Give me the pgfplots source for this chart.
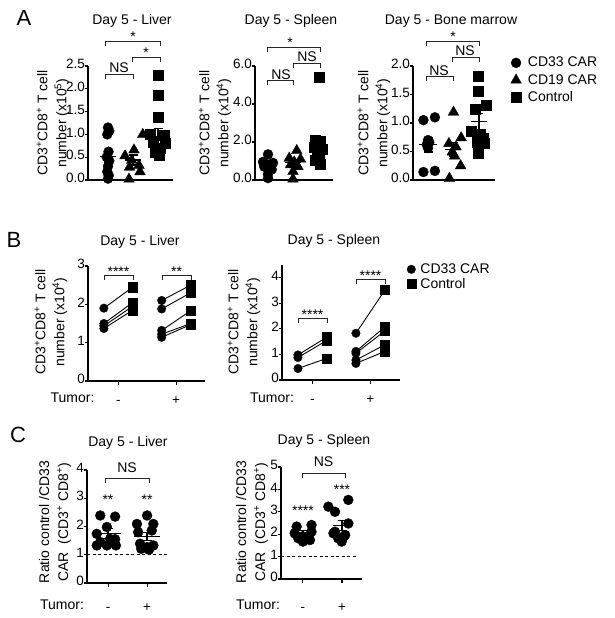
\documentclass[border=0pt]{standalone}
\usepackage{pgfplots}
\pgfplotsset{compat=1.18}
\usepackage{fontspec}
\setmainfont{Liberation Sans}
\newcommand{\fs}[1]{\fontsize{#1}{#1}\selectfont}
\newcommand{\sups}[1]{\textsuperscript{#1}}
\pgfplotsset{
  gp/.style={
    scale only axis,
    axis lines=left,
    axis line style={-, line width=1.1pt},
    every outer x axis line/.append style={-},
    every outer y axis line/.append style={-},
    tick align=outside,
    major tick length=3.5pt,
    tick style={line width=1.1pt, black},
    tick label style={font=\fs{13.5}},
    yticklabel style={inner xsep=0.5pt, xshift=1pt},
    typeset ticklabels with strut,
    /pgf/number format/assume math mode=true,
    clip=false,
    xtick=\empty,
  },
  onedec/.style={yticklabel style={/pgf/number format/fixed, /pgf/number format/fixed zerofill, /pgf/number format/precision=1}},
  pm/.style={xtick={#1}, xticklabels={-,+}, xticklabel style={anchor=center, yshift=-17pt}},
  circ/.style={only marks, mark=*, mark size=#1, black, mark options={fill=black, draw=black, line width=0.3pt}},
  circ/.default=5pt,
  tri/.style={only marks, mark=triangle*, mark size=6.2pt, black, mark options={fill=black, draw=black, line width=0.3pt}},
  sq/.style={only marks, mark=square*, mark size=#1, black, mark options={fill=black, draw=black, line width=0.3pt}},
  sq/.default=5pt,
  meanbar/.style={only marks, mark=-, mark size=#1, black, mark options={line width=1.2pt}, forget plot,
     error bars/.cd, y dir=both, y explicit, error bar style={line width=1.2pt, black},
     error mark options={rotate=90, mark size=4.5pt, line width=1.2pt, black}},
  pair/.style={no marks, black, line width=0.9pt, forget plot},
  lgd/.style 2 args={legend style={at={(1,1)}, anchor=north west, draw=none, fill=none, font=\fs{14}, inner sep=0pt,
     row sep=#1, nodes={inner sep=1pt, font=\fs{14}}, /tikz/every odd column/.append style={column sep=#2}}, legend cell align=left},
}
\begin{document}
\begin{tikzpicture}
\useasboundingbox (0pt,0pt) rectangle (614pt,-618pt);

% ---------------- A: Liver
\begin{axis}[gp, onedec, at={(88pt,-180pt)}, anchor=south west, width=85pt, height=114pt,
  xmin=0.2, xmax=3.6, ymin=0, ymax=2.5, ytick={0,0.5,1,1.5,2,2.5}]
\addplot[circ] coordinates {(1.0,1.15) (1.05,1.08) (0.97,1.0) (1.02,0.62) (0.95,0.5) (1.05,0.42) (1.0,0.3) (0.97,0.18) (1.03,0.1) (1.0,0.03)};
\addplot[meanbar=8pt] coordinates {(1,0.52) +- (0,0.13)};
\addplot[tri] coordinates {(2.39,1.0) (2.04,0.66) (1.68,0.53) (1.95,0.43) (2.24,0.32) (1.86,0.28) (2.28,0.18) (1.84,0.02)};
\addplot[meanbar=8pt] coordinates {(2,0.44) +- (0,0.11)};
\addplot[sq] coordinates {(3.0,2.3) (3.0,1.85) (3.0,1.37) (2.7,1.0) (3.25,0.99) (2.8,0.82) (3.3,0.8) (3.1,0.7) (2.9,0.6) (3.05,0.55)};
\addplot[meanbar=8pt] coordinates {(3,0.95) +- (0,0.18)};
\end{axis}

% ---------------- A: Spleen
\begin{axis}[gp, onedec, at={(255pt,-180pt)}, anchor=south west, width=78pt, height=114pt,
  xmin=0.48, xmax=3.6, ymin=0, ymax=6, ytick={0,2,4,6}]
\addplot[circ] coordinates {(1.0,1.35) (0.8,0.95) (1.2,0.9) (0.9,0.85) (1.1,0.8) (0.85,0.7) (1.15,0.55) (1.0,0.3) (1.0,0.1)};
\addplot[meanbar=8pt] coordinates {(1,0.85) +- (0,0.13)};
\addplot[tri] coordinates {(2.15,1.55) (1.85,1.15) (2.3,1.1) (2.05,0.95) (1.9,0.8) (2.2,0.7) (2.0,0.45) (2.0,0.05)};
\addplot[meanbar=8pt] coordinates {(2,0.92) +- (0,0.17)};
\addplot[sq] coordinates {(3.05,5.4) (2.9,2.1) (3.1,2.05) (3.0,1.95) (2.85,1.75) (3.15,1.6) (2.95,1.45) (3.05,1.25) (2.9,1.05) (3.1,0.85)};
\addplot[meanbar=8pt] coordinates {(3,1.88) +- (0,0.42)};
\end{axis}

% ---------------- A: Bone marrow
\begin{axis}[gp, onedec, at={(413pt,-180pt)}, anchor=south west, width=82pt, height=114pt,
  xmin=0.41, xmax=3.63, ymin=0, ymax=2, ytick={0,0.5,1,1.5,2},
  lgd={4pt}{5.5pt}, legend style={xshift=15.5pt, yshift=10pt}]
\addplot[circ] coordinates {(0.82,1.05) (1.27,1.1) (1.0,0.7) (1.05,0.66) (0.95,0.62) (1.0,0.56) (0.82,0.14) (1.27,0.16)};
\addlegendentry{CD33 CAR}
\addplot[tri] coordinates {(2.0,1.19) (2.3,0.74) (1.82,0.64) (2.1,0.58) (1.95,0.49) (2.05,0.42) (2.28,0.25) (1.84,0.03)};
\addlegendentry{CD19 CAR}
\addplot[sq] coordinates {(2.97,1.82) (2.97,1.56) (2.84,1.24) (3.3,1.32) (2.71,0.85) (3.17,0.73) (2.91,0.66) (3.22,0.64) (2.97,0.47) (3.05,0.8)};
\addlegendentry{Control}
\addplot[meanbar=9pt] coordinates {(1,0.62) +- (0,0.13)};
\addplot[meanbar=8pt] coordinates {(2,0.54) +- (0,0.12)};
\addplot[meanbar=8pt] coordinates {(3,1.02) +- (0,0.15)};
\end{axis}

% ---------------- B: Liver
\begin{axis}[gp, pm={0,2}, at={(88pt,-381pt)}, anchor=south west, width=117pt, height=115pt,
  xmin=-1.05, xmax=3.0, ymin=0, ymax=3, ytick={0,1,2,3}]
\addplot[pair] coordinates {(-0.5,1.9) (0.5,2.45)};
\addplot[pair] coordinates {(-0.5,1.5) (0.5,2.05)};
\addplot[pair] coordinates {(-0.5,1.44) (0.5,1.95)};
\addplot[pair] coordinates {(-0.5,1.37) (0.5,1.85)};
\addplot[pair] coordinates {(1.5,2.1) (2.5,2.5)};
\addplot[pair] coordinates {(1.5,1.88) (2.5,2.3)};
\addplot[pair] coordinates {(1.5,1.32) (2.5,1.83)};
\addplot[pair] coordinates {(1.5,1.22) (2.5,1.5)};
\addplot[pair] coordinates {(1.5,1.14) (2.5,1.47)};
\addplot[circ=4.3pt] coordinates {(-0.5,1.9) (-0.5,1.5) (-0.5,1.44) (-0.5,1.37) (1.5,2.1) (1.5,1.88) (1.5,1.32) (1.5,1.22) (1.5,1.14)};
\addplot[sq=4.6pt] coordinates {(0.5,2.45) (0.5,2.05) (0.5,1.95) (0.5,1.85) (2.5,2.5) (2.5,2.3) (2.5,1.83) (2.5,1.5) (2.5,1.47)};
\end{axis}

% ---------------- B: Spleen
\begin{axis}[gp, pm={0,2}, at={(282pt,-380pt)}, anchor=south west, width=118pt, height=115pt,
  xmin=-1.05, xmax=3.02, ymin=0, ymax=4.5, ytick={0,1,2,3,4},
  lgd={1pt}{3.5pt}, legend style={xshift=6.5pt, yshift=2.5pt}]
\addplot[pair] coordinates {(-0.5,0.98) (0.5,1.68)};
\addplot[pair] coordinates {(-0.5,0.88) (0.5,1.55)};
\addplot[pair] coordinates {(-0.5,0.45) (0.5,0.85)};
\addplot[pair] coordinates {(1.5,1.83) (2.5,3.52)};
\addplot[pair] coordinates {(1.5,1.12) (2.5,2.08)};
\addplot[pair] coordinates {(1.5,1.05) (2.5,1.92)};
\addplot[pair] coordinates {(1.5,0.78) (2.5,1.38)};
\addplot[pair] coordinates {(1.5,0.65) (2.5,1.12)};
\addplot[circ=4.3pt] coordinates {(-0.5,0.98) (-0.5,0.88) (-0.5,0.45) (1.5,1.83) (1.5,1.12) (1.5,1.05) (1.5,0.78) (1.5,0.65)};
\addlegendentry{CD33 CAR}
\addplot[sq=4.6pt] coordinates {(0.5,1.68) (0.5,1.55) (0.5,0.85) (2.5,3.52) (2.5,2.08) (2.5,1.92) (2.5,1.38) (2.5,1.12)};
\addlegendentry{Control}
\end{axis}

% ---------------- C: Liver
\begin{axis}[gp, pm={1,2}, at={(87pt,-583pt)}, anchor=south west, width=80pt, height=113pt,
  xmin=0.46, xmax=2.51, ymin=0, ymax=4, ytick={0,1,2,3,4}, xticklabel style={yshift=-5pt}]
\addplot[black, line width=0.8pt, dash pattern=on 3pt off 2.5pt, forget plot] coordinates {(0.46,1) (2.51,1)};
\addplot[circ] coordinates {(0.8,2.39) (1.18,2.35) (0.97,1.98) (0.71,1.74) (1.18,1.55) (0.8,1.45) (0.71,1.33) (0.97,1.33) (1.2,1.33) (1.05,1.56)};
\addplot[circ] coordinates {(2.0,2.39) (1.74,2.09) (2.16,2.09) (1.77,1.8) (2.12,1.86) (1.82,1.39) (2.0,1.27) (2.16,1.33) (1.85,1.21) (2.05,1.18)};
\addplot[meanbar=13pt] coordinates {(1,1.75) +- (0,0.17)};
\addplot[meanbar=13pt] coordinates {(2,1.65) +- (0,0.14)};
\end{axis}

% ---------------- C: Spleen
\begin{axis}[gp, pm={1,2}, at={(281pt,-579pt)}, anchor=south west, width=81pt, height=112pt,
  xmin=0.44, xmax=2.51, ymin=0, ymax=5, ytick={0,1,2,3,4,5}, xticklabel style={yshift=-9pt}]
\addplot[black, line width=0.8pt, dash pattern=on 3pt off 2.5pt, forget plot] coordinates {(0.44,1) (2.38,1)};
\addplot[circ] coordinates {(0.84,2.34) (1.22,2.41) (0.79,2.04) (0.97,1.89) (1.14,1.89) (1.22,2.11) (0.88,1.82) (1.05,1.74) (1.18,1.74) (1.0,1.67)};
\addplot[circ] coordinates {(2.16,3.53) (1.65,3.23) (1.82,3.0) (2.16,2.48) (1.82,2.11) (2.08,1.96) (1.9,1.82) (1.99,1.67) (1.78,2.04) (2.04,1.89)};
\addplot[meanbar=9pt] coordinates {(1,2.07) +- (0,0.09)};
\addplot[meanbar=9pt] coordinates {(2,2.38) +- (0,0.22)};
\end{axis}

% ---------------- annotations (image pixel coordinates)
\begin{scope}[x=1pt, y=-1pt]
\newcommand{\br}[3]{\draw[line width=0.9pt, black!85] (#1,#3+5) -- (#1,#3) -- (#2,#3) -- (#2,#3+5);}
\tikzset{lb/.style={anchor=base, font=\fs{14}, inner sep=0pt}}
% panel letters
\node[font=\fs{22}] at (24,17.5) {A};
\node[font=\fs{22}] at (14,239.5) {B};
\node[font=\fs{22}] at (18,434.5) {C};
% titles
\node[font=\fs{14}] at (132,21) {Day 5 - Liver};
\node[font=\fs{14}] at (291,21) {Day 5 - Spleen};
\node[font=\fs{14}] at (451,21) {Day 5 - Bone marrow};
\node[font=\fs{14}] at (140,242) {Day 5 - Liver};
\node[font=\fs{14}] at (334,241) {Day 5 - Spleen};
\node[font=\fs{14}] at (128,443) {Day 5 - Liver};
\node[font=\fs{14}] at (324,441) {Day 5 - Spleen};
% y labels
\tikzset{yl/.style={rotate=90, align=center, font=\fontsize{14}{19}\selectfont, inner sep=0pt}}
\node[yl] at (53,123) {CD3\sups{+}CD8\sups{+} T cell\\number (x10\sups{5})};
\node[yl] at (215,123) {CD3\sups{+}CD8\sups{+} T cell\\number (x10\sups{4})};
\node[yl] at (374,123) {CD3\sups{+}CD8\sups{+} T cell\\number (x10\sups{4})};
\node[yl] at (51,322) {CD3\sups{+}CD8\sups{+} T cell\\number (x10\sups{4})};
\node[yl] at (244,322) {CD3\sups{+}CD8\sups{+} T cell\\number (x10\sups{4})};
\node[yl] at (55,522) {Ratio control /CD33\\CAR\ \ (CD3\sups{+} CD8\sups{+})};
\node[yl] at (252,522) {Ratio control /CD33\\CAR\ \ (CD3\sups{+} CD8\sups{+})};
% Tumor labels
\node[font=\fs{14}] at (72.5,398) {Tumor:};
\node[font=\fs{14}] at (272,398) {Tumor:};
\node[font=\fs{14}] at (62,605) {Tumor:};
\node[font=\fs{14}] at (258,605) {Tumor:};
% A brackets
\br{105}{160}{41} \node[lb] at (133,42) {*};
\br{132}{160}{57} \node[lb] at (146,57) {*};
\br{105}{133}{74} \node[lb] at (119,72) {NS};
\br{267}{320}{47} \node[lb] at (290,48) {*};
\br{293}{320}{63} \node[lb] at (307,62) {NS};
\br{267}{293}{80} \node[lb] at (281,79) {NS};
\br{426}{479}{41} \node[lb] at (453,42) {*};
\br{452}{479}{57} \node[lb] at (465,56) {NS};
\br{426}{453}{76} \node[lb] at (439,75) {NS};
% B brackets
\br{104}{133}{275} \node[lb] at (118.5,276) {****};
\br{162}{191}{275} \node[lb] at (176.5,276) {**};
\br{298}{327}{318} \node[lb] at (312.5,319) {****};
\br{356}{385}{279} \node[lb] at (370.5,280) {****};
% C annotations
\br{105}{149}{478} \node[lb] at (127,472) {NS};
\node[lb] at (108,504) {**};
\node[lb] at (147,504) {**};
\br{302}{345}{473} \node[lb] at (323.5,466) {NS};
\node[lb] at (303,515) {****};
\node[lb] at (342,494) {***};
\end{scope}
\end{tikzpicture}
\end{document}
